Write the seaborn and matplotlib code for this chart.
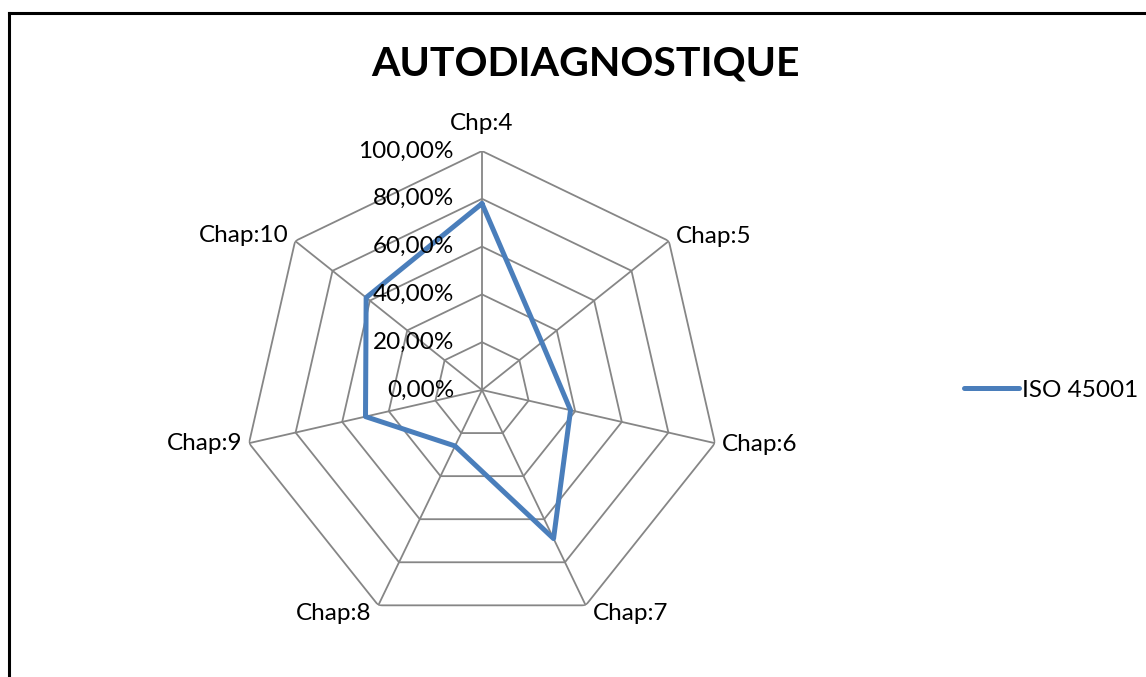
import numpy as np
import pandas as pd
import matplotlib
matplotlib.use("Agg")
import matplotlib.pyplot as plt
from matplotlib.lines import Line2D
import seaborn as sns

# ---- data ----
categories = ["Chp:4", "Chap:5", "Chap:6", "Chap:7", "Chap:8", "Chap:9", "Chap:10"]
values = [0.78, 0.32, 0.38, 0.69, 0.26, 0.50, 0.62]
series_name = "ISO 45001"
title = "AUTODIAGNOSTIQUE"
r_ticks = [0.0, 0.2, 0.4, 0.6, 0.8, 1.0]
r_tick_labels = ["0,00%", "20,00%", "40,00%", "60,00%", "80,00%", "100,00%"]

sns.set_theme(style="white")
plt.rcParams["font.family"] = ["Lato", "DejaVu Sans"]
plt.rcParams["text.color"] = "black"

W, H = 1146, 677
fig = plt.figure(figsize=(W / 100, H / 100), dpi=100)
fig.patch.set_facecolor("white")

cx, cy, R = 482, 390, 239
ax = fig.add_axes([(cx - R) / W, (H - cy - R) / H, 2 * R / W, 2 * R / H], projection="polar")
ax.set_theta_zero_location("N")
ax.set_theta_direction(-1)
ax.set_ylim(0, 1.0)
ax.grid(False)
ax.spines["polar"].set_visible(False)
ax.set_xticks([])
ax.set_yticks([])
ax.set_facecolor("none")

n = len(categories)
thetas = np.arange(n) * 2 * np.pi / n
grid_color = "#868686"

# polygon grid rings
closed_t = np.append(thetas, thetas[0])
for r in r_ticks[1:]:
    ax.plot(closed_t, [r] * (n + 1), color=grid_color, lw=1.3, zorder=1, solid_joinstyle="miter")
# spokes
for t in thetas:
    ax.plot([t, t], [0, r_ticks[-1]], color=grid_color, lw=1.3, zorder=1)

# data line
df = pd.DataFrame({"theta": np.append(thetas, thetas[0]),
                   "value": values + [values[0]],
                   "series": series_name})
sns.lineplot(data=df, x="theta", y="value", sort=False, ax=ax, color="#4A7EBB",
             lw=3.6, zorder=3, legend=False, estimator=None)
ax.set_xlabel("")
ax.set_ylabel("")

fs = 17.5
# radial tick labels
for r, lab in zip(r_ticks, r_tick_labels):
    ax.annotate(lab, xy=(0, r), xytext=(-28, 0), textcoords="offset pixels",
                ha="right", va="center", fontsize=fs, color="black", zorder=4,
                annotation_clip=False)

# category labels
for t, lab in zip(thetas, categories):
    s = np.sin(t)
    c = np.cos(t)
    if abs(s) < 0.1:
        ha, dx, dy = "center", 0, 27
    elif s > 0:
        ha, dx = "left", 7
        dy = 4 if c > 0.5 else (-8 if c < -0.5 else -1)
    else:
        ha, dx = "right", -7
        dy = 5 if c > 0.5 else (-8 if c < -0.5 else 0)
    ax.annotate(lab, xy=(t, r_ticks[-1]), xytext=(dx, dy), textcoords="offset pixels",
                ha=ha, va="center", fontsize=fs, color="black", annotation_clip=False)

# title
fig.text(585 / W, 1 - 64 / H, title, ha="center", va="center", fontsize=29.5,
         fontweight="bold", color="black")

# legend
handle = Line2D([], [], color="#4A7EBB", lw=3.6, solid_capstyle="round")
fig.legend([handle], [series_name], loc="center left",
           bbox_to_anchor=(964 / W, 1 - 390 / H), frameon=False, fontsize=fs,
           handlelength=2.25, handletextpad=0.15, borderpad=0, borderaxespad=0,
           labelcolor="black")

# chart-area border (cropped)
bx, by = 9 / W, 1 - 13 / H
fig.add_artist(Line2D([bx, bx], [0, by], color="black", lw=2.2, transform=fig.transFigure,
                      solid_capstyle="projecting"))
fig.add_artist(Line2D([bx, 1], [by, by], color="black", lw=2.2, transform=fig.transFigure,
                      solid_capstyle="projecting"))

fig.savefig("out.png", dpi=100, facecolor="white")
